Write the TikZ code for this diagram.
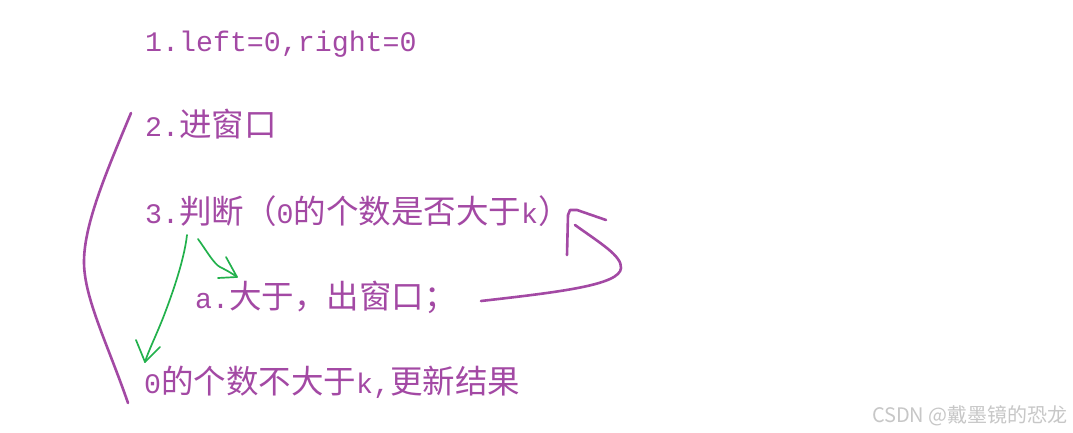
\documentclass[tikz,border=0pt]{standalone}
\usepackage{fontspec}
\setmainfont{Liberation Mono}[Scale=0.87]
\newfontfamily\cjk{Noto Sans CJK SC}
\usepackage{tikz}
\definecolor{paintpurple}{RGB}{163,73,164}
\definecolor{paintgreen}{RGB}{34,177,76}
\tikzset{txt/.style={anchor=base west,inner sep=0pt,text=paintpurple,
                     font=\fontsize{32.5}{39}\selectfont},
         pen/.style={draw=paintpurple,line width=2.6pt,line cap=round,line join=round},
         gpen/.style={draw=paintgreen,line width=1.7pt,line cap=round,line join=round}}

\begin{document}
\begin{tikzpicture}[x=1pt,y=-1pt]
\useasboundingbox[fill=white] (0,0) rectangle (1073,433);
\node[txt] (l1) at (145,52) {1.left=0,right=0};
\node[txt] (l2) at (145,137) {2.{\cjk 进窗口}};
\node[txt] (l3) at (145,223) {3.{\cjk 判断（}0{\cjk 的个数是否大于}k{\cjk ）}};
\node[txt] (la) at (195,308) {a.{\cjk 大于，出窗口；}};
\node[txt] (l4) at (144,393) {0{\cjk 的个数不大于}k,{\cjk 更新结果}};
\node[anchor=base east,inner sep=0pt,text=black!22,
      font=\cjk\fontsize{20}{24}\selectfont] (mark) at (1068,422) {CSDN @戴墨镜的恐龙};
% big bracket on the left
\draw[pen] (131,113) .. controls (105,175) and (84,225) .. (84,262)
                     .. controls (84,298) and (108,345) .. (128,403);
% back to step 3
\draw[pen] (481,301) .. controls (560,292) and (620,285) .. (621,268)
                     .. controls (622,256) and (600,243) .. (575,225);
\draw[pen] (567,255) -- (568,215) -- (570,210) -- (577,210) -- (606,220);
% green arrows
\draw[gpen] (187,235) .. controls (184,262) and (170,300) .. (163,318)
                      .. controls (155,338) and (148,352) .. (145,362);
\draw[gpen] (136,340) -- (145,362) -- (160,347);
\draw[gpen] (198,239) .. controls (206,250) and (214,264) .. (220,267)
                      .. controls (228,271) and (233,274) .. (237,277);
\draw[gpen] (226,257) -- (237,277) -- (218,278);
\end{tikzpicture}
\end{document}
